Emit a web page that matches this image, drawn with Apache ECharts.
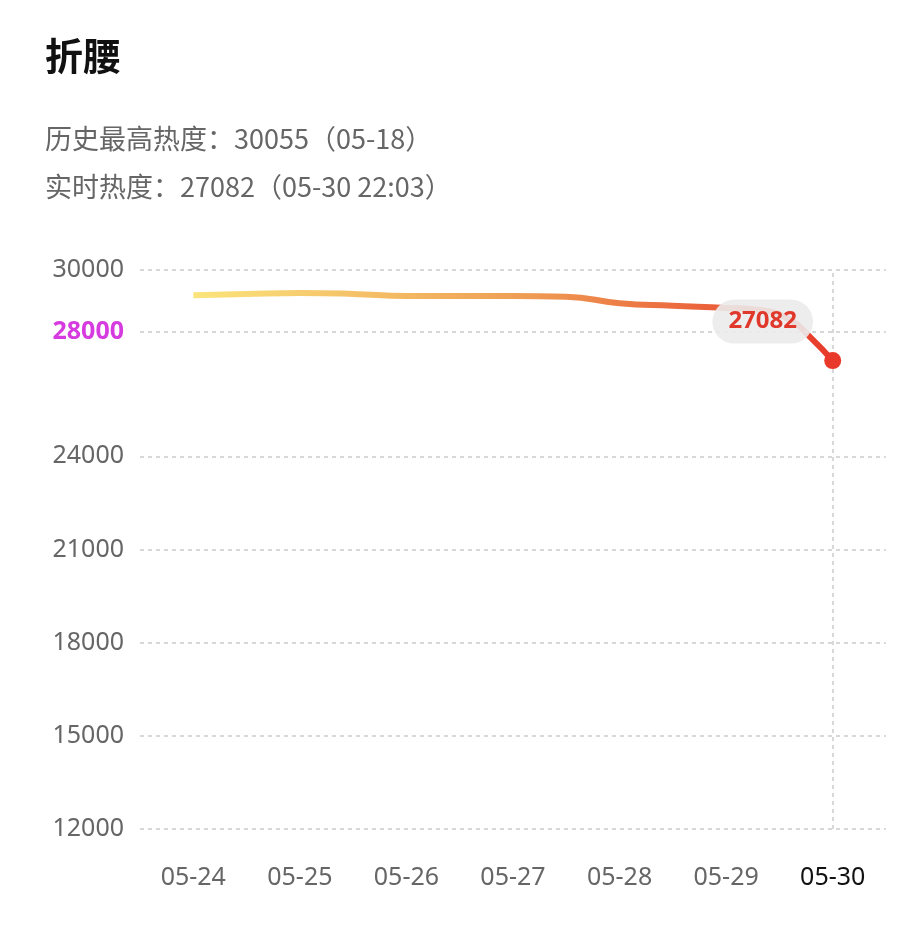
<!DOCTYPE html>
<html><head><meta charset="utf-8">
<script src="https://cdn.jsdelivr.net/npm/echarts@6/dist/echarts.min.js"></script>
<style>html,body{margin:0;padding:0;background:#fff}#c{width:924px;height:945px}</style>
</head><body><div id="c"></div>
<script>
const categories = ['05-24','05-25','05-26','05-27','05-28','05-29','05-30'];
const dayPos = [0, 0.5, 1, 1.5, 2, 2.5, 3, 3.5, 4, 4.5, 5, 5.3, 5.6, 5.8, 6];
const heat = [29190, 29230, 29260, 29230, 29160, 29160, 29160, 29140, 28930, 28850, 28780, 28720, 28400, 27800, 27082];
const yTicks = [12000, 15000, 18000, 21000, 24000, 28000, 30000];
const chart = echarts.init(document.getElementById('c'));
const data = dayPos.map((x, i) => [x, heat[i]]);
const last = data[data.length - 1];
chart.setOption({
  animation: false,
  title: [
    {text: '折腰', left: 40, top: 32, textStyle: {fontSize: 38, fontWeight: 'bold', color: '#111', fontFamily: 'Noto Sans CJK SC'}},
    {text: '历史最高热度：30055（05-18）', left: 40, top: 120, textStyle: {fontSize: 27, fontWeight: 'normal', color: '#666', fontFamily: 'Noto Sans CJK SC'}},
    {text: '实时热度：27082（05-30 22:03）', left: 40, top: 168, textStyle: {fontSize: 27, fontWeight: 'normal', color: '#666', fontFamily: 'Noto Sans CJK SC'}}
  ],
  grid: {left: 140, right: 38, top: 270, bottom: 116},
  xAxis: {type: 'value', min: -0.5, max: 6.5, splitLine: {show: false}, axisLine: {show: false}, axisTick: {show: false},
    axisLabel: {customValues: [0,1,2,3,4,5,6], margin: 36, fontSize: 25, color: '#666', fontFamily: 'Noto Sans',
      formatter: v => categories[Math.round(v)] === '05-30' ? '{b|05-30}' : categories[Math.round(v)],
      rich: {b: {fontSize: 25, color: '#111', fontFamily: 'Noto Sans'}}}},
  yAxis: {type: 'value', min: 12000, max: 30000, position: 'left',
    axisLine: {show: false}, axisTick: {show: false},
    splitLine: {show: false},
    axisLabel: {customValues: yTicks, margin: 16, fontSize: 25, color: '#666', fontFamily: 'Noto Sans',
      formatter: v => v === 28000 ? '{m|28000}' : String(v),
      rich: {m: {fontSize: 25, color: '#d63be0', fontWeight: 'bold', fontFamily: 'Noto Sans'}}}},
  series: [{
    type: 'line', smooth: true, showSymbol: false, data: data,
    lineStyle: {width: 6, color: new echarts.graphic.LinearGradient(0, 0, 1, 0, [
      {offset: 0, color: '#fbe57c'}, {offset: 0.5, color: '#efa055'}, {offset: 1, color: '#e8392a'}])},
    markLine: {silent: true, symbol: 'none', label: {show: false},
      data: yTicks.map(v => ({yAxis: v, lineStyle: {color: '#ccc', type: [4, 4], width: 1.5}}))
        .concat([{xAxis: 6, lineStyle: {color: '#ccc', type: [4, 4], width: 1.5}}])},
    markPoint: {silent: true, symbol: 'circle', symbolSize: 17, itemStyle: {color: '#e8392a'},
      data: [{coord: last, value: last[1]}],
      label: {show: true, position: 'inside', offset: [-70, -39], formatter: '{c}',
        color: '#e0392b', fontSize: 24, fontWeight: 'bold', fontFamily: 'Noto Sans',
        backgroundColor: 'rgba(235,235,235,0.9)', borderRadius: 22, padding: [10, 16]}}
  }]
});
</script></body></html>
